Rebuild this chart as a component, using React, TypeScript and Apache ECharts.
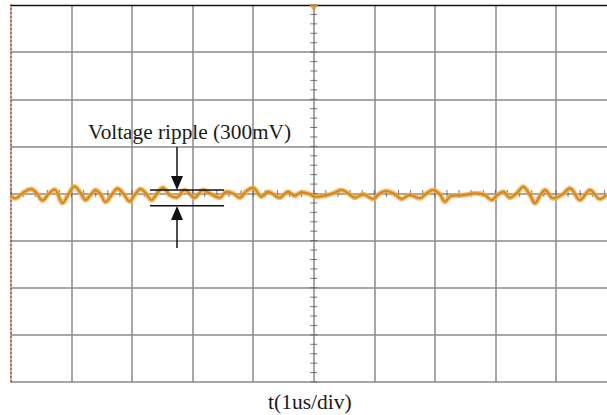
import React, { useEffect, useRef } from "react";
import * as echarts from "echarts";

// time in divisions (1 us/div), centred on the trigger point
const timeUs = [
  -5.0, -4.926, -4.826, -4.669, -4.579, -4.479, -4.38, -4.281, -4.149, -4.05,
  -3.95, -3.851, -3.769, -3.686, -3.603, -3.521, -3.438, -3.339, -3.24, -3.14,
  -3.041, -2.959, -2.86, -2.777, -2.678, -2.595,
  -2.491, -2.38, -2.269, -2.132, -1.967, -1.83, -1.719, -1.554, -1.443, -1.334,
  -1.223, -1.112, -1.003, -0.864, -0.755, -0.562, -0.425, -0.314, -0.203,
  -0.066, 0.017, 0.182, 0.319, 0.458, 0.567, 0.678, 0.815, 0.98, 1.091,
  1.202, 1.339, 1.45, 1.587, 1.752, 1.863, 1.972, 2.083, 2.165, 2.276,
  2.38, 2.496, 2.661, 2.826, 2.937, 3.02, 3.129, 3.24, 3.35, 3.46,
  3.57, 3.653, 3.736, 3.818, 3.955, 4.094, 4.231, 4.397, 4.562, 4.727, 4.838,
];
// output voltage deviation (divisions)
const rippleDiv = [
  -0.053, -0.106, -0.011, 0.096, 0.011, -0.149, -0.011, 0.085, -0.202, -0.011,
  0.149, 0.011, -0.138, -0.032, 0.074, -0.011, -0.18, -0.032, 0.106, -0.011,
  -0.17, -0.032, 0.096, 0.011, -0.138, -0.011,
  0.123, -0.032, -0.085, 0.074, -0.089, 0.074, 0.004, -0.089, 0.038, 0.004,
  -0.089, 0.053, 0.123, -0.068, 0.038, -0.089, 0.038, -0.047, 0.025,
  -0.011, -0.068, -0.047, 0.004, 0.074, 0.004, -0.089, -0.017, -0.117, 0.004,
  0.053, -0.017, -0.117, -0.032, -0.102, 0.004, 0.074, -0.017, -0.174, -0.047,
  -0.042, -0.032, 0.004, -0.032, -0.138, -0.047, 0.038, -0.089, 0.004, 0.144,
  -0.032, -0.208, -0.047, 0.074, -0.102, -0.032, 0.11, -0.138, 0.074, -0.117, -0.032,
];

// visible screen: 10 div wide screen, cropped at the right
const xRange = [-5, 4.843];
const yRange = [-4, 4];
const minorStep = 0.2;

const rippleLabel = "Voltage ripple (300mV)";
const axisTitle = "t(1us/div)";

export default function App() {
  const ref = useRef<HTMLDivElement>(null);

  useEffect(() => {
    document.body.style.margin = "0";
    if (!ref.current) return;
    const chart = echarts.init(ref.current, null, { renderer: "svg" });

    const trace = timeUs.map((t, i) => [t, rippleDiv[i]]);
    const vTicks: number[][] = [];
    for (let k = 0; k <= (yRange[1] - yRange[0]) / minorStep + 1e-6; k++) {
      vTicks.push([0, +(yRange[0] + k * minorStep).toFixed(2)]);
    }
    const hTicks: number[][] = [];
    for (let k = 0; xRange[0] + k * minorStep <= xRange[1]; k++) {
      hTicks.push([+(xRange[0] + k * minorStep).toFixed(2), 0]);
    }

    const serif = '"Liberation Serif", "Times New Roman", serif';
    const black = "#111";

    chart.setOption({
      animation: false,
      backgroundColor: "#fff",
      grid: { left: 11, top: 5, right: 0, bottom: 33, containLabel: false },
      xAxis: [
        {
          type: "value",
          min: xRange[0],
          max: xRange[1],
          interval: 1,
          axisLine: { show: false },
          axisTick: { show: false },
          axisLabel: { show: false },
          splitLine: {
            show: true,
            showMinLine: false,
            showMaxLine: false,
            lineStyle: { color: "#8a8a8a", width: 1.5 },
          },
        },
        {
          type: "value",
          position: "top",
          min: xRange[0],
          max: xRange[1],
          interval: 1,
          axisLine: { show: true, onZero: false, lineStyle: { color: black, width: 1.3 } },
          axisTick: { show: false },
          axisLabel: { show: false },
          splitLine: { show: false },
        },
      ],
      yAxis: {
        type: "value",
        min: yRange[0],
        max: yRange[1],
        interval: 1,
        axisLine: {
          show: true,
          onZero: false,
          lineStyle: { color: "#8e4a2c", width: 1.5, type: [2, 2] },
        },
        axisTick: { show: false },
        axisLabel: { show: false },
        splitLine: {
          show: true,
          showMaxLine: false,
          lineStyle: { color: "#8a8a8a", width: 1.5 },
        },
      },
      series: [
        {
          type: "scatter",
          data: vTicks,
          symbol: "rect",
          symbolSize: [7, 1],
          itemStyle: { color: "#555" },
          silent: true,
          z: 3,
        },
        {
          type: "scatter",
          data: hTicks,
          symbol: "rect",
          symbolSize: [1, 7],
          itemStyle: { color: "#555" },
          silent: true,
          z: 3,
        },
        {
          type: "line",
          data: trace,
          showSymbol: false,
          smooth: 0.35,
          lineStyle: { color: "rgba(240,172,70,0.8)", width: 5 },
          z: 4,
        },
        {
          type: "line",
          data: trace,
          showSymbol: false,
          smooth: 0.35,
          lineStyle: { color: "#d4861a", width: 2 },
          z: 5,
        },
        {
          type: "scatter",
          data: [[0, yRange[1]]],
          symbol: "triangle",
          symbolRotate: 180,
          symbolSize: [9, 7],
          symbolOffset: [0, 3],
          itemStyle: { color: "#e8912a" },
          z: 6,
        },
      ],
      graphic: [
        {
          type: "text",
          left: 88,
          top: 121,
          style: { text: rippleLabel, fontSize: 21.3, fontFamily: serif, fill: "#1a1a1a" },
        },
        {
          type: "text",
          left: 268,
          top: 391,
          style: { text: axisTitle, fontSize: 21.5, fontFamily: serif, fill: "#1a1a1a" },
        },
        { type: "line", shape: { x1: 150, y1: 190, x2: 224, y2: 190 }, style: { stroke: black, lineWidth: 1.5 }, z: 10 },
        { type: "line", shape: { x1: 150, y1: 205.7, x2: 224, y2: 205.7 }, style: { stroke: black, lineWidth: 1.5 }, z: 10 },
        { type: "line", shape: { x1: 177, y1: 147, x2: 177, y2: 178 }, style: { stroke: black, lineWidth: 1.5 }, z: 10 },
        { type: "polygon", shape: { points: [[171, 176], [183, 176], [177, 190]] }, style: { fill: black }, z: 10 },
        { type: "line", shape: { x1: 177, y1: 218, x2: 177, y2: 248 }, style: { stroke: black, lineWidth: 1.5 }, z: 10 },
        { type: "polygon", shape: { points: [[171, 220], [183, 220], [177, 206]] }, style: { fill: black }, z: 10 },
      ],
    });
    return () => chart.dispose();
  }, []);

  return (
    <div
      ref={ref}
      style={{ position: "fixed", left: 0, top: 0, width: 607, height: 415, background: "#fff" }}
    />
  );
}
